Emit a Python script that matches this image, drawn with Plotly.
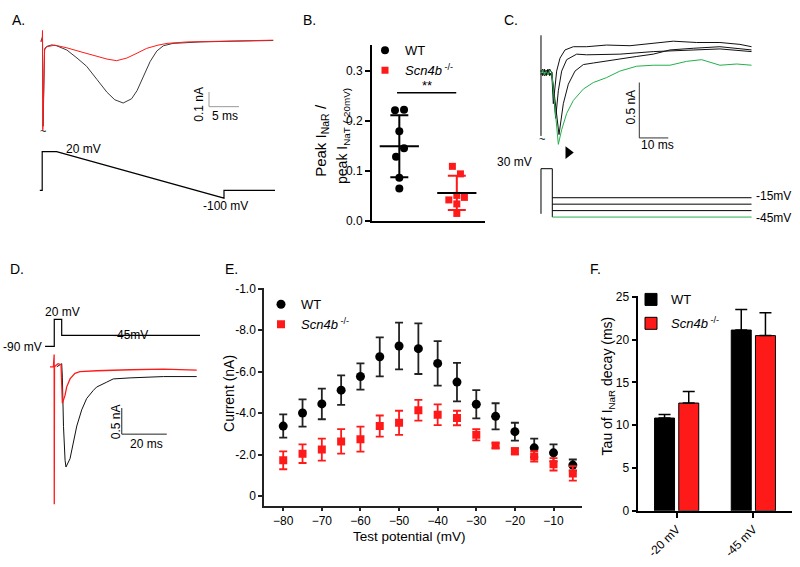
import plotly.graph_objects as go

W, H = 800, 567
FONT = "Liberation Sans, Arial, sans-serif"
RED = "#ff1a1a"
GREEN = "#22b04b"
DARK = "#3a3a3a"

# ======================= DATA =======================
# Panel A: resurgent currents evoked by a 20 mV -> -100 mV ramp (ms, nA)
a_wt_t = [0.0, 0.25, 0.35, 0.6, 1.0, 1.8, 2.6, 4.3, 6.0, 7.6, 9.3, 11.0, 12.3, 13.7,
          15.1, 16.0, 17.1, 18.2, 19.3, 20.4, 22.0, 24.3, 26.5, 32.0, 38.7]
a_wt_i = [0.0, 0.03, -0.58, -0.05, -0.035, -0.025, -0.031, -0.06, -0.115, -0.171, -0.26,
          -0.349, -0.40, -0.422, -0.393, -0.338, -0.238, -0.138, -0.067, -0.031, -0.015,
          -0.009, -0.005, 0.0, 0.005]
a_ko_t = [-0.1, 0.2, 0.25, 0.3, 0.6, 0.95, 2.3, 4.3, 6.5, 8.7, 11.0, 12.6, 14.3, 16.0,
          17.6, 19.5, 21.0, 24.3, 29.3, 38.7]
a_ko_i = [0.0, 0.0, 0.073, -0.605, -0.06, -0.038, -0.027, -0.045, -0.071, -0.098, -0.122,
          -0.133, -0.115, -0.082, -0.049, -0.027, -0.015, -0.005, 0.0, 0.007]
a_prot_t = [-0.2, 0.2, 0.2, 2.6, 30.5, 30.5, 39.0]
a_prot_v = [-80, -80, 20, 20, -100, -80, -80]

# Panel B: peak I_NaR / peak I_NaT (-20 mV)
b_wt = [0.221, 0.222, 0.179, 0.145, 0.128, 0.086, 0.065]
b_wt_jitter = [-0.075, 0.082, 0.0, 0.082, -0.057, 0.0, 0.0]
b_ko = [0.109, 0.094, 0.042, 0.051, 0.047, 0.034, 0.015]
b_ko_jitter = [-0.077, 0.063, -0.139, 0.0, 0.132, 0.0, 0.0]
b_mean = [0.149, 0.056]
b_sd = [0.062, 0.034]

# Panel C: resurgent currents at -15 ... -45 mV after a 30 mV step (ms, nA)
c_t1 = [0, 0.6, 1.2, 1.8, 2.4, 3.0, 3.7, 4.25, 5.4, 6.55, 8.28, 11.15, 15.75, 22.6, 30.7,
        38.7, 45.6, 53.7, 61.7, 68.6, 72.6]
c_i1 = [0.02, -0.03, 0.03, -0.02, 0.03, -0.03, 0.0, -0.282, 0.012, 0.129, 0.203, 0.232,
        0.232, 0.247, 0.241, 0.262, 0.282, 0.270, 0.270, 0.253, 0.232]
c_t2 = [0, 0.6, 1.2, 1.8, 2.4, 3.0, 3.7, 5.06, 5.98, 7.13, 8.85, 12.3, 15.75, 27.2, 38.7,
        50.2, 61.7, 72.6]
c_i2 = [-0.02, 0.03, -0.03, 0.02, -0.02, 0.03, 0.0, -0.414, -0.165, 0.012, 0.115, 0.165,
        0.159, 0.165, 0.188, 0.203, 0.212, 0.188]
c_t3 = [0, 0.6, 1.2, 1.8, 2.4, 3.0, 3.7, 6.21, 7.70, 9.43, 11.72, 14.6, 18.05, 24.9, 32.99,
        38.7, 44.5, 52.5, 61.7, 72.6]
c_i3 = [0.01, -0.02, 0.02, -0.03, 0.02, -0.02, 0.0, -0.561, -0.282, -0.106, 0.012, 0.071,
        0.085, 0.115, 0.144, 0.165, 0.203, 0.218, 0.232, 0.203]
c_tg = [0, 0.6, 1.2, 1.8, 2.4, 3.0, 3.7, 5.98, 7.13, 8.85, 11.15, 14.6, 18.05, 22.6, 27.2,
        32.99, 38.7, 44.5, 50.2, 55.4, 61.7, 67.5, 72.6]
c_ig = [-0.01, 0.02, -0.02, 0.01, -0.02, 0.02, 0.0, -0.649, -0.517, -0.37, -0.253, -0.15,
        -0.091, -0.047, 0.012, 0.056, 0.065, 0.065, 0.1, 0.115, 0.065, 0.076, 0.065]
c_steps_mv = [-15, -25, -35, -45]
c_pre_mv = 30
c_hold_mv = -40
c_pre_ms = 3.9
c_end_ms = 72.6

# Panel D: protocol (ms, mV) and currents at -45 mV (ms, nA)
d_prot_t = [-2.2, 1.9, 1.9, 5.2, 5.2, 66.7]
d_prot_v = [-90, -90, 20, 20, -45, -45]
d_wt_t = [3.0, 4.4, 5.2, 5.5, 6.0, 6.7, 7.1, 8.9, 10.4, 11.9, 14.1, 16.3, 19.3, 20.7, 25.2,
          28.1, 35.6, 50.4, 65.2]
d_wt_i = [0.0, 0.05, 0.06, -0.2, -1.14, -1.79, -1.92, -1.76, -1.448, -1.135, -0.824, -0.607,
          -0.45, -0.388, -0.294, -0.232, -0.212, -0.187, -0.187]
d_ko_t = [0.0, 1.5, 1.85, 1.9, 2.0, 2.7, 3.6, 4.9, 5.1, 5.5, 6.7, 7.4, 8.9, 11.1, 13.3,
          20.7, 35.6, 50.4, 65.2]
d_ko_i = [0.0, 0.0, 0.236, -2.635, 0.0, 0.03, 0.06, 0.04, -0.39, -0.70, -0.543, -0.388,
          -0.232, -0.125, -0.094, -0.075, -0.056, -0.045, -0.064]

# Panel E: I-V of resurgent current
e_v = [-80, -75, -70, -65, -60, -55, -50, -45, -40, -35, -30, -25, -20, -15, -10, -5]
e_wt = [-3.38, -4.01, -4.45, -5.11, -5.77, -6.72, -7.24, -7.11, -6.40, -5.50, -4.43, -3.85,
        -3.11, -2.33, -2.09, -1.50]
e_wt_err = [0.56, 0.66, 0.74, 0.71, 0.63, 0.94, 1.13, 1.22, 1.07, 0.93, 0.68, 0.63, 0.43,
            0.45, 0.41, 0.27]
e_ko = [-1.73, -2.05, -2.25, -2.64, -2.75, -3.38, -3.54, -4.14, -3.93, -3.77, -2.96, -2.44,
        -2.17, -1.92, -1.54, -1.10]
e_ko_err = [0.43, 0.45, 0.53, 0.59, 0.60, 0.51, 0.58, 0.50, 0.50, 0.35, 0.27, 0.12, 0.15,
            0.25, 0.30, 0.35]
e_xticks = [-80, -70, -60, -50, -40, -30, -20, -10]
e_yticks = [0, -2, -4, -6, -8, -10]
e_yticktext = ["0", "-2.0", "-4.0", "-6.0", "-8.0", "-1.0"]

# Panel F: decay time constants
f_cond = ["-20 mV", "-45 mV"]
f_wt = [10.84, 21.12]
f_wt_err = [0.43, 2.40]
f_ko = [12.59, 20.47]
f_ko_err = [1.34, 2.67]

KO_NAME = "<i>Scn4b</i><sup> -/-</sup>"


# ======================= HELPERS =======================
def xd(a, b):
    return [a / W, b / W]


def yd(top, bottom):
    return [1 - bottom / H, 1 - top / H]


def ann(text, x, y, size=12, angle=0, xanchor="center", yanchor="middle", color="black"):
    return dict(text=text, x=x / W, y=1 - y / H, xref="paper", yref="paper",
                showarrow=False, textangle=angle, xanchor=xanchor, yanchor=yanchor,
                font=dict(size=size, family=FONT, color=color))


fig = go.Figure()


def line(xs, ys, ax, color="black", width=1.0):
    fig.add_trace(go.Scatter(x=xs, y=ys, mode="lines", xaxis="x" + ax, yaxis="y" + ax,
                             line=dict(color=color, width=width), showlegend=False,
                             hoverinfo="skip"))


# ---------- Panel A ----------
line(a_wt_t, a_wt_i, "", DARK)
line(a_ko_t, a_ko_i, "", RED)
line([28, 28, 33], [-0.347, -0.447, -0.447], "", "#999999", 1)  # 0.1 nA / 5 ms scale bar
line(a_prot_t, a_prot_v, "2", "black", 1.2)

# ---------- Panel B ----------
fig.add_trace(go.Scatter(x=[0 + j for j in b_wt_jitter], y=b_wt, mode="markers",
                         xaxis="x3", yaxis="y3", name="WT", legend="legend",
                         marker=dict(symbol="circle", size=8, color="black")))
fig.add_trace(go.Scatter(x=[1 + j for j in b_ko_jitter], y=b_ko, mode="markers",
                         xaxis="x3", yaxis="y3", name=KO_NAME, legend="legend",
                         marker=dict(symbol="square", size=7, color=RED)))
for k, col in enumerate(["black", RED]):
    fig.add_trace(go.Scatter(x=[k], y=[b_mean[k]], mode="markers", xaxis="x3", yaxis="y3",
                             showlegend=False,
                             marker=dict(symbol="line-ew", size=28,
                                         line=dict(color="black", width=2)),
                             error_y=dict(type="data", array=[b_sd[k]], color=col,
                                          thickness=2, width=9)))
fig.add_trace(go.Scatter(x=[-0.04, 0.99], y=[0.256, 0.256], mode="lines", xaxis="x3",
                         yaxis="y3", showlegend=False, line=dict(color="black", width=1.5)))

# ---------- Panel C ----------
line([0, 0], [0.335, -0.573], "4", "black")
line(c_t1, c_i1, "4", "#111111")
line(c_t2, c_i2, "4", "#111111")
line(c_t3, c_i3, "4", "#111111")
line(c_tg, c_ig, "4", GREEN)
line([33.9, 33.9, 43.9], [-0.091, -0.591, -0.591], "4", "#333333")  # 0.5 nA / 10 ms
fig.add_trace(go.Scatter(x=[9.4], y=[-0.723], mode="markers", xaxis="x4", yaxis="y4",
                         showlegend=False, cliponaxis=False,
                         marker=dict(symbol="triangle-right", size=11, color="black")))
line([0, 0, c_pre_ms, c_pre_ms], [c_hold_mv, c_pre_mv, c_pre_mv, c_steps_mv[-1]], "5",
     "black")
for k, v in enumerate(c_steps_mv):
    line([c_pre_ms, c_end_ms], [v, v], "5", GREEN if k == len(c_steps_mv) - 1 else "black")

# ---------- Panel D ----------
line(d_prot_t, d_prot_v, "6", "black", 1.2)
line(d_wt_t, d_wt_i, "7", "#111111")
line(d_ko_t, d_ko_i, "7", RED, 1.3)
line([31.9, 31.9, 51.9], [-0.79, -1.29, -1.29], "7", "#222222")  # 0.5 nA / 20 ms

# ---------- Panel E ----------
fig.add_trace(go.Scatter(x=e_v, y=e_wt, mode="markers", xaxis="x8", yaxis="y8", name="WT",
                         legend="legend2",
                         marker=dict(symbol="circle", size=9, color="black"),
                         error_y=dict(type="data", array=e_wt_err, color="#222222",
                                      thickness=1.8, width=4)))
fig.add_trace(go.Scatter(x=e_v, y=e_ko, mode="markers", xaxis="x8", yaxis="y8",
                         name=KO_NAME, legend="legend2",
                         marker=dict(symbol="square", size=8, color=RED),
                         error_y=dict(type="data", array=e_ko_err, color=RED,
                                      thickness=1.8, width=4)))

# ---------- Panel F ----------
fig.add_trace(go.Bar(x=f_cond, y=f_wt, xaxis="x9", yaxis="y9", name="WT", legend="legend3",
                     legendgroup="wt",
                     marker=dict(color="black", line=dict(color="black", width=1)),
                     error_y=dict(type="data", array=f_wt_err, arrayminus=[0, 0],
                                  symmetric=False, color="black", thickness=1.5, width=6)))
fig.add_trace(go.Bar(x=f_cond, y=f_ko, xaxis="x9", yaxis="y9", name=KO_NAME,
                     legend="legend3", legendgroup="ko",
                     marker=dict(color=RED, line=dict(color="black", width=1)),
                     error_y=dict(type="data", array=f_ko_err, arrayminus=[0, 0],
                                  symmetric=False, color="black", thickness=1.5, width=6)))

# ======================= LAYOUT =======================
hidden = dict(visible=False, showgrid=False, zeroline=False, fixedrange=True)
tickfont = dict(size=12, family=FONT, color="black")

layout = dict(
    width=W, height=H, margin=dict(l=0, r=0, t=0, b=0),
    paper_bgcolor="white", plot_bgcolor="white",
    font=dict(family=FONT, size=12, color="black"),
    barmode="group", bargap=0.369, bargroupgap=0.174,
    # A
    xaxis=dict(domain=xd(38, 275), range=[-0.5, 39], anchor="y", **hidden),
    yaxis=dict(domain=yd(20, 130), range=[-0.627, 0.107], anchor="x", **hidden),
    xaxis2=dict(domain=xd(38, 275), range=[-0.5, 39], anchor="y2", **hidden),
    yaxis2=dict(domain=yd(140, 200), range=[-108.5, 42.7], anchor="x2", **hidden),
    # B
    xaxis3=dict(domain=xd(372, 485), range=[-0.475, 1.49], anchor="y3", showline=True,
                linewidth=2, linecolor="black", showticklabels=False, ticks="",
                showgrid=False, zeroline=False),
    yaxis3=dict(domain=yd(40, 220), range=[0, 0.351], anchor="x3", showline=True,
                linewidth=2, linecolor="black", ticks="outside", ticklen=5, tickwidth=2,
                tickcolor="black", tickvals=[0, 0.1, 0.2, 0.3],
                ticktext=["0.0", "0.1", "0.2", "0.3"], tickfont=tickfont,
                showgrid=False, zeroline=False),
    # C
    xaxis4=dict(domain=xd(530, 752), range=[-3.79, 72.76], anchor="y4", **hidden),
    yaxis4=dict(domain=yd(25, 150), range=[-0.723, 0.379], anchor="x4", **hidden),
    xaxis5=dict(domain=xd(530, 752), range=[-3.79, 72.76], anchor="y5", **hidden),
    yaxis5=dict(domain=yd(150, 225), range=[-58.6, 55], anchor="x5", **hidden),
    # D
    xaxis6=dict(domain=xd(40, 200), range=[-4.44, 66.67], anchor="y6", **hidden),
    yaxis6=dict(domain=yd(310, 352), range=[-104.8, 63.2], anchor="x6", **hidden),
    xaxis7=dict(domain=xd(40, 200), range=[-4.44, 66.67], anchor="y7", **hidden),
    yaxis7=dict(domain=yd(350, 515), range=[-2.728, 0.361], anchor="x7", **hidden),
    # E
    xaxis8=dict(domain=xd(264.3, 581.7), range=[-84.9, -2.7], anchor="y8", showline=True,
                linewidth=2, linecolor="#222222", ticks="outside", ticklen=3, tickwidth=1.5,
                tickcolor="#222222", tickvals=e_xticks, tickfont=tickfont,
                showgrid=False, zeroline=False),
    yaxis8=dict(domain=yd(288.3, 511.7), range=[0.47, -10.05], anchor="x8", showline=True,
                linewidth=2, linecolor="#222222", ticks="outside", ticklen=4, tickwidth=1.5,
                tickcolor="#222222", tickvals=e_yticks, ticktext=e_yticktext,
                tickfont=tickfont, showgrid=False, zeroline=False),
    # F
    xaxis9=dict(domain=xd(638.3, 791.7), range=[-0.5, 1.5], anchor="y9", type="category",
                showline=True, linewidth=1.5, linecolor="black", ticks="outside", ticklen=5,
                tickwidth=1.5, tickcolor="black", tickangle=-45, tickfont=tickfont,
                showgrid=False, zeroline=False),
    yaxis9=dict(domain=yd(296.7, 516.7), range=[0, 25.11], anchor="x9", showline=True,
                linewidth=1.5, linecolor="black", ticks="outside", ticklen=5, tickwidth=1.5,
                tickcolor="black", tickvals=[0, 5, 10, 15, 20, 25], tickfont=tickfont,
                showgrid=False, zeroline=False),
    legend=dict(x=365 / W, y=1 - 30 / H, xanchor="left", yanchor="top",
                bgcolor="rgba(0,0,0,0)", font=dict(size=13, family=FONT)),
    legend2=dict(x=261 / W, y=1 - 290 / H, xanchor="left", yanchor="top",
                 bgcolor="rgba(0,0,0,0)", font=dict(size=13, family=FONT)),
    legend3=dict(x=631 / W, y=1 - 285 / H, xanchor="left", yanchor="top",
                 bgcolor="rgba(0,0,0,0)", font=dict(size=13, family=FONT),
                 tracegroupgap=4, traceorder="grouped"),
)
fig.update_layout(**layout)

annotations = [
    # panel letters
    ann("A.", 18, 14, 14), ann("B.", 309, 14, 14), ann("C.", 511, 14, 14),
    ann("D.", 17, 269, 14), ann("E.", 231, 269, 14), ann("F.", 595, 269, 14),
    # A
    ann("~", 43, 128, 11),
    ann("0.1 nA", 199, 101, 12, angle=-90), ann("5 ms", 225, 112.5, 12),
    ann("20 mV", 83, 146, 12), ann("-100 mV", 226, 205, 12),
    # B
    ann("Peak I<sub>NaR</sub> /", 322, 138, 15, angle=-90),
    ann("peak I<sub>NaT</sub> <sub>(-20mV)</sub>", 343, 133, 14, angle=-90),
    ann("**", 427, 81, 13),
    # C
    ann("~", 542, 136, 11),
    ann("0.5 nA", 631, 104, 12, angle=-90), ann("10 ms", 657.5, 142.7, 12),
    ann("30 mV", 534, 160, 12, xanchor="right"),
    ann("-15mV", 754, 194, 12, xanchor="left"), ann("-45mV", 754, 217, 12, xanchor="left"),
    # D
    ann("-90 mV", 44, 349, 12, xanchor="right"), ann("20 mV", 62.5, 312.7, 12),
    ann("-45mV", 130, 336.7, 12),
    ann("0.5 nA", 116, 425, 12, angle=-90), ann("20 ms", 146, 448.3, 12),
    # E
    ann("Current (nA)", 228.3, 396.7, 14, angle=-90),
    ann("Test potential (mV)", 410, 543, 13.5),
    # F
    ann("Tau of I<sub>NaR</sub> decay (ms)", 608.3, 389, 14, angle=-90),
]
fig.update_layout(annotations=annotations)

fig.write_html("out.html", config={"displayModeBar": False},
               post_script="document.body.style.margin='0px';")
